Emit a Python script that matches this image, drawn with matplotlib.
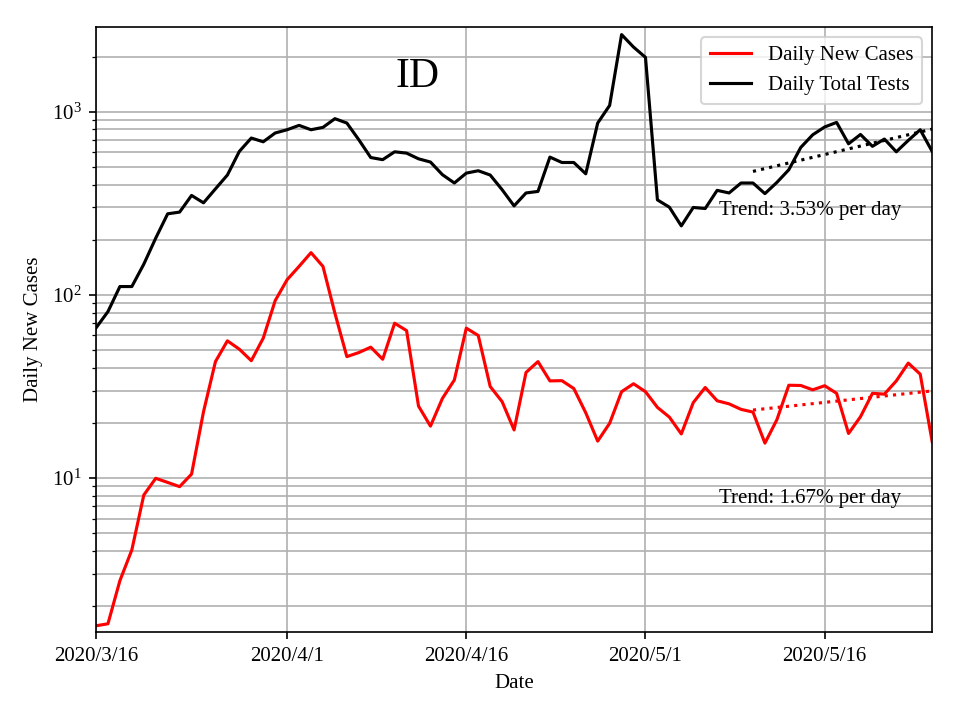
import matplotlib
matplotlib.use('Agg')
import matplotlib.pyplot as plt
import matplotlib.dates as mdates
import numpy as np
import pandas as pd

plt.rcParams['font.family'] = ['Liberation Serif', 'DejaVu Serif']
plt.rcParams['mathtext.fontset'] = 'stix'
plt.rcParams['font.size'] = 10

dates = pd.date_range('2020-03-16', '2020-05-25', freq='D')

daily_tests = [66, 81, 111, 111, 147, 204, 277, 283, 349, 318,
               379, 451, 607, 718, 685, 765, 797, 842, 797, 821,
               916, 867, 703, 562, 547, 604, 594, 553, 531, 453,
               408, 462, 476, 451, 375, 306, 360, 367, 565, 528,
               528, 458, 867, 1082, 2636, 2253, 1980, 330, 301, 238,
               300, 296, 372, 360, 408, 408, 357, 411, 482, 638,
               748, 825, 874, 668, 751, 647, 709, 604, 697, 797,
               607]

daily_cases = [1.56, 1.60, 2.75, 4.05, 8.07, 9.96, 9.46, 8.97, 10.5, 23.0,
               43.2, 56.1, 50.5, 43.7, 58.0, 93, 121, 143, 170, 143,
               79.4, 46, 48.4, 51.8, 44.5, 70, 63.8, 24.7, 19.2, 27.2,
               34.3, 65.8, 60, 31.6, 26.1, 18.3, 37.7, 43.2, 33.9, 34,
               30.8, 22.7, 15.9, 19.9, 29.6, 32.7, 29.6, 24.3, 21.5, 17.4,
               25.8, 31.2, 26.4, 25.4, 23.7, 22.9, 15.5, 20.8, 32.1, 32,
               30.3, 31.9, 29, 17.5, 21.6, 29, 28.7, 33.9, 42.4, 36.9,
               15.8]

# trend lines: from 2020/5/10 to 2020/5/25
trend_dates = pd.to_datetime(['2020-05-10', '2020-05-25'])
trend_tests = [472, 803]
trend_cases = [23.5, 29.9]
trend_labels = ['Trend: 3.53% per day', 'Trend: 1.67% per day']

fig, ax = plt.subplots(figsize=(6.4, 4.8), dpi=150)
fig.subplots_adjust(left=0.1, right=0.971, top=0.9625, bottom=0.122)

ax.plot(dates, daily_cases, color='red', lw=1.5, label='Daily New Cases')
ax.plot(dates, daily_tests, color='black', lw=1.5, label='Daily Total Tests')
ax.plot(trend_dates, trend_tests, color='black', ls=':', lw=1.5)
ax.plot(trend_dates, trend_cases, color='red', ls=':', lw=1.5)

ax.set_yscale('log')
ax.set_xlim(dates[0], dates[-1])
ax.set_ylim(1.44, 2900)

ax.xaxis.set_major_locator(mdates.DayLocator(bymonthday=[1, 16]))
ax.xaxis.set_major_formatter(mdates.DateFormatter('%Y/%-m/%-d'))

ax.grid(True, which='major', color='#b0b0b0', lw=0.8)
ax.grid(True, which='minor', axis='y', color='#b0b0b0', lw=0.8)

ax.text(0.385, 0.917, 'ID', transform=ax.transAxes, fontsize=20,
        ha='center', va='center')
txt_x = pd.Timestamp('2020-05-07 03:00')
ax.text(txt_x, 290, trend_labels[0], fontsize=10, ha='left', va='center')
ax.text(txt_x, 7.7, trend_labels[1], fontsize=10, ha='left', va='center')

ax.set_xlabel('Date')
ax.set_ylabel('Daily New Cases')
ax.legend(loc='upper right')

fig.savefig('out.png', dpi=150)
